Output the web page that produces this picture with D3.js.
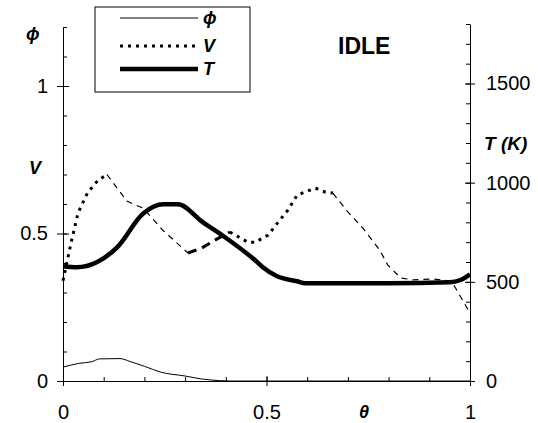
<!DOCTYPE html>
<html>
<head>
<meta charset="utf-8">
<script src="https://cdn.jsdelivr.net/npm/d3@7"></script>
<style>
  body { margin: 0; background: #fff; }
  text { font-family: "Liberation Sans", Arial, sans-serif; fill: #000; }
  .lbl { font-weight: bold; font-style: italic; }
</style>
</head>
<body>
<script>
//Declare consts/global variables
        const width = 538;
        const height = 423;
        const left = 63, right = 470, bottom = 381;

//Data (theta on x)
        const phiTheta = [0, 0.04, 0.07, 0.09, 0.14, 0.165, 0.2, 0.24, 0.3, 0.34, 0.36, 0.41, 0.6, 0.8, 1];
        const phiValues = [0.047, 0.06, 0.065, 0.075, 0.076, 0.066, 0.05, 0.03, 0.017, 0.007, 0.004, 0, 0, 0, 0];

        const vTheta = [0, 0.02, 0.037, 0.061, 0.086, 0.108, 0.157, 0.172, 0.197, 0.246, 0.307, 0.34, 0.37, 0.41,
                        0.455, 0.472, 0.504, 0.533, 0.553, 0.575, 0.62, 0.645, 0.663, 0.7, 0.737, 0.778, 0.798,
                        0.83, 0.86, 0.91, 0.955, 1];
        const vValues = [0.34, 0.47, 0.57, 0.64, 0.68, 0.70, 0.61, 0.60, 0.586, 0.51, 0.434, 0.45, 0.475, 0.505,
                         0.47, 0.47, 0.495, 0.546, 0.58, 0.63, 0.654, 0.64, 0.637, 0.573, 0.518, 0.444, 0.393,
                         0.349, 0.343, 0.346, 0.338, 0.23];

        const tTheta = [0, 0.034, 0.083, 0.133, 0.197, 0.246, 0.282, 0.344, 0.398, 0.472, 0.491, 0.526, 0.575,
                        0.595, 0.7, 0.8, 0.95, 0.975, 1];
        const tValues = [579, 574, 599, 674, 845, 891, 891, 800, 725, 609, 574, 528, 503,
                         493, 493, 493, 498, 508, 538];

        const xTicks = [0, 0.5, 1];
        const leftTicks = [0, 0.5, 1];
        const rightTicks = [0, 500, 1000, 1500];

        const phiData = phiTheta.map((t, i) => ({x: t, y: phiValues[i]}));
        const vData = vTheta.map((t, i) => ({x: t, y: vValues[i]}));
        const tData = tTheta.map((t, i) => ({x: t, y: tValues[i]}));

//Scales
        const xScale = d3.scaleLinear().domain([0, 1]).range([left, right]);
        const yLeft = d3.scaleLinear().domain([0, 1.2]).range([bottom, 27]);
        const yRight = d3.scaleLinear().domain([0, 1800]).range([bottom, 24]);

//Adding svg
        const svg = d3.select("body")
            .append("svg")
            .attr("width", width)
            .attr("height", height);

//Axes - minor ticks point inside, major ticks cross the line
        const minor = d3.range(0, 1.0001, 0.1);

        svg.append("g")
            .attr("transform", "translate(0," + bottom + ")")
            .call(d3.axisBottom(xScale).tickValues(minor).tickSize(-4).tickSizeOuter(0).tickFormat(""));
        svg.append("g")
            .attr("transform", "translate(0," + (bottom - 5) + ")")
            .call(d3.axisBottom(xScale).tickValues(xTicks).tickSize(10).tickPadding(19).tickFormat(d3.format("")))
            .call(g => g.select(".domain").remove());

        svg.append("g")
            .attr("transform", "translate(" + left + ",0)")
            .call(d3.axisLeft(yLeft).tickValues(d3.range(0, 1.2001, 0.1)).tickSize(-4).tickSizeOuter(0).tickFormat(""));
        svg.append("g")
            .attr("transform", "translate(" + (left + 6) + ",0)")
            .call(d3.axisLeft(yLeft).tickValues(leftTicks).tickSize(12).tickPadding(9).tickFormat(d3.format("")))
            .call(g => g.select(".domain").remove());

        svg.append("g")
            .attr("transform", "translate(" + right + ",0)")
            .call(d3.axisRight(yRight).tickValues(d3.range(0, 1801, 100)).tickSize(-4).tickSizeOuter(0).tickFormat(""));
        svg.append("g")
            .attr("transform", "translate(" + (right - 5) + ",0)")
            .call(d3.axisRight(yRight).tickValues(rightTicks).tickSize(10).tickPadding(11).tickFormat(d3.format("")))
            .call(g => g.select(".domain").remove());

        svg.selectAll(".tick text").attr("font-size", 20).attr("font-family", "Liberation Sans, Arial, sans-serif");
        svg.selectAll(".domain, .tick line").attr("stroke", "#000");

//Lines
        const lineL = d3.line().x(d => xScale(d.x)).y(d => yLeft(d.y));
        const smoothL = d3.line().curve(d3.curveMonotoneX).x(d => xScale(d.x)).y(d => yLeft(d.y));
        const smoothR = d3.line().curve(d3.curveMonotoneX).x(d => xScale(d.x)).y(d => yRight(d.y));

        svg.append("path")
            .datum(phiData)
            .attr("fill", "none")
            .attr("stroke", "#000")
            .attr("stroke-width", 1)
            .attr("d", smoothL);

        // V is printed with a mix of heavy dots and thin dashes
        const vPieces = [
            {from: 0, to: 0.108, w: 3, dash: "3,5"},
            {from: 0.108, to: 0.307, w: 1.2, dash: "6,5"},
            {from: 0.307, to: 0.41, w: 3, dash: "9,6"},
            {from: 0.41, to: 0.663, w: 3, dash: "3,5"},
            {from: 0.663, to: 1, w: 1.2, dash: "6,5"}
        ];
        vPieces.forEach(p => {
            svg.append("path")
                .datum(vData.filter(d => d.x >= p.from && d.x <= p.to))
                .attr("fill", "none")
                .attr("stroke", "#000")
                .attr("stroke-width", p.w)
                .attr("stroke-dasharray", p.dash)
                .attr("d", lineL);
        });

        svg.append("path")
            .datum(tData)
            .attr("fill", "none")
            .attr("stroke", "#000")
            .attr("stroke-width", 4.5)
            .attr("stroke-linejoin", "round")
            .attr("d", smoothR);

//Axis titles
        svg.append("text").attr("class", "lbl").attr("x", 26).attr("y", 40).attr("font-size", 18).text("ϕ");
        svg.append("text").attr("class", "lbl").attr("x", 29).attr("y", 174).attr("font-size", 18).text("V");
        svg.append("text").attr("class", "lbl").attr("x", 484).attr("y", 150).attr("font-size", 19).text("T (K)");
        svg.append("text").attr("class", "lbl").attr("x", 359).attr("y", 418).attr("font-size", 18).text("θ");
        svg.append("text").attr("x", 338).attr("y", 54).attr("font-size", 23).attr("font-weight", "bold").text("IDLE");

//Legend
        const legend = svg.append("g");
        legend.append("rect")
            .attr("x", 95).attr("y", 7).attr("width", 155).attr("height", 85)
            .attr("fill", "#fff").attr("stroke", "#000").attr("stroke-width", 1);
        const legendItems = [
            {name: "ϕ", w: 1, dash: null, y: 18},
            {name: "V", w: 3, dash: "3,5", y: 46},
            {name: "T", w: 4.5, dash: null, y: 69}
        ];
        legendItems.forEach(it => {
            legend.append("line")
                .attr("x1", 120).attr("x2", 198).attr("y1", it.y).attr("y2", it.y)
                .attr("stroke", "#000").attr("stroke-width", it.w)
                .attr("stroke-dasharray", it.dash);
            legend.append("text").attr("class", "lbl")
                .attr("x", 203).attr("y", it.y + 6).attr("font-size", 18).text(it.name);
        });
</script>
</body>
</html>
